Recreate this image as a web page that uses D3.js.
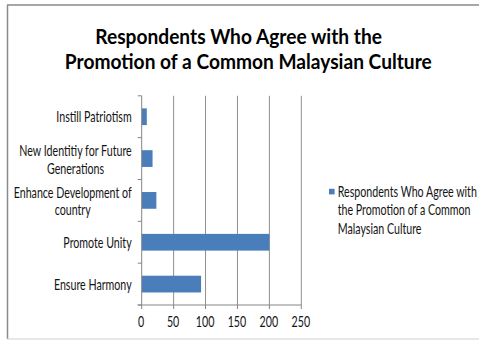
<!DOCTYPE html>
<html><head><script src="https://cdn.jsdelivr.net/npm/d3@7"></script>
<style>body{margin:0;background:#fff}</style></head>
<body>
<svg id="chart" width="479" height="340"></svg>
<script>
// Survey results, listed from the bottom category upwards
const categories = ["Ensure Harmony", "Promote Unity", "Enhance Development of country",
                    "New Identitiy for Future Generations", "Instill Patriotism"];
const values = [93, 200, 23, 17, 8];
const seriesName = "Respondents Who Agree with the Promotion of a Common Malaysian Culture";
const xTicks = [0, 50, 100, 150, 200, 250];
const titleLines = ["Respondents Who Agree with the", "Promotion of a Common Malaysian Culture"];
const labelLines = {
  "Enhance Development of country": ["Enhance Development of", "country"],
  "New Identitiy for Future Generations": ["New Identitiy for Future", "Generations"]
};
const legendLines = ["Respondents Who Agree with", "the Promotion of a Common", "Malaysian Culture"];

const FONT = "Lato";
const TEXT_SIZE = 14.5;
const TEXT_SX = 0.735;  // narrow lettering
const TITLE_SX = 0.913;
const BAR = "#4a7ebb";
const GRID = "#8f8f8f";

const svg = d3.select("#chart");

// frame
svg.append("line").attr("x1", 7).attr("x2", 479).attr("y1", 5).attr("y2", 5)
  .attr("stroke", "#8a8a8a").attr("stroke-width", 1.5);
svg.append("line").attr("x1", 7.5).attr("x2", 7.5).attr("y1", 5).attr("y2", 339)
  .attr("stroke", "#8a8a8a").attr("stroke-width", 1.5);
svg.append("line").attr("x1", 7).attr("x2", 479).attr("y1", 339).attr("y2", 339)
  .attr("stroke", "#cfcfcf").attr("stroke-width", 1.2);

// text helper: narrow text via horizontal scaling
function label(g, x, y, str, opts) {
  const o = Object.assign({size: TEXT_SIZE, sx: TEXT_SX, anchor: "start", weight: "normal", fill: "#141414"}, opts);
  return g.append("text")
    .attr("transform", `translate(${x},${y}) scale(${o.sx},1)`)
    .attr("font-family", FONT).attr("font-size", o.size).attr("font-weight", o.weight)
    .attr("text-anchor", o.anchor).attr("fill", o.fill).text(str);
}

// title
const titleCenters = [238.6, 248.3];
const titleBase = [43.5, 68.5];
titleLines.forEach((t, i) => label(svg, titleCenters[i], titleBase[i], t,
  {size: 21, sx: TITLE_SX, anchor: "middle", weight: "bold", fill: "#000"}));

// scales
const x = d3.scaleLinear().domain([0, 250]).range([141.7, 301.3]);
const y = d3.scaleBand().domain(categories.slice().reverse()).range([95.8, 305])
  .paddingInner(0.6).paddingOuter(0.3);
const step = y.step();

// gridlines
svg.append("g").selectAll("line").data(xTicks.slice(1)).join("line")
  .attr("x1", d => x(d)).attr("x2", d => x(d))
  .attr("y1", y.range()[0]).attr("y2", y.range()[1])
  .attr("stroke", GRID).attr("stroke-width", 1);

// bars
svg.append("g").selectAll("rect").data(categories).join("rect")
  .attr("x", x(0)).attr("y", d => y(d))
  .attr("width", (d, i) => x(values[i]) - x(0))
  .attr("height", y.bandwidth())
  .attr("fill", BAR);

// axis lines and ticks
const axes = svg.append("g").attr("stroke", "#868686").attr("stroke-width", 1);
axes.append("line").attr("x1", x(0)).attr("x2", x(0)).attr("y1", y.range()[0]).attr("y2", y.range()[1]);
axes.append("line").attr("x1", x(0) - 4).attr("x2", x(250)).attr("y1", y.range()[1]).attr("y2", y.range()[1]);
const bounds = d3.range(categories.length + 1).map(i => y.range()[0] + i * step);
axes.selectAll(".yt").data(bounds).join("line").attr("class", "yt")
  .attr("x1", x(0) - 4).attr("x2", x(0)).attr("y1", d => d).attr("y2", d => d);
axes.selectAll(".xt").data(xTicks).join("line").attr("class", "xt")
  .attr("x1", d => x(d)).attr("x2", d => x(d))
  .attr("y1", y.range()[1]).attr("y2", y.range()[1] + 4);

// x tick labels
const xl = svg.append("g");
xTicks.forEach(t => label(xl, x(t) - 0.5, 327, String(t), {anchor: "middle"}));

// category labels: block right-aligned, lines centred within it
const yl = svg.append("g");
const labelRight = 131.7;
const lineHeight = 17.5;
categories.forEach(c => {
  const lines = labelLines[c] || [c];
  const cy = y(c) + y.bandwidth() / 2;
  const widths = lines.map(l => {
    const t = yl.append("text").attr("font-family", FONT).attr("font-size", TEXT_SIZE).text(l);
    const w = t.node().getComputedTextLength() * TEXT_SX; t.remove(); return w;
  });
  const cx = labelRight - d3.max(widths) / 2;
  const first = cy + 5.5 + (lines.length > 1 ? 0.8 : 0) - (lines.length - 1) * lineHeight / 2;
  lines.forEach((l, i) => label(yl, cx, first + i * lineHeight, l, {anchor: "middle"}));
});

// legend
const lg = svg.append("g");
lg.append("rect").attr("x", 329).attr("y", 188.8).attr("width", 5.6).attr("height", 5.6).attr("fill", BAR);
legendLines.forEach((l, i) => label(lg, 337.7, 197.2 + i * 18.2, l));
lg.append("title").text(seriesName);
</script></body></html>
